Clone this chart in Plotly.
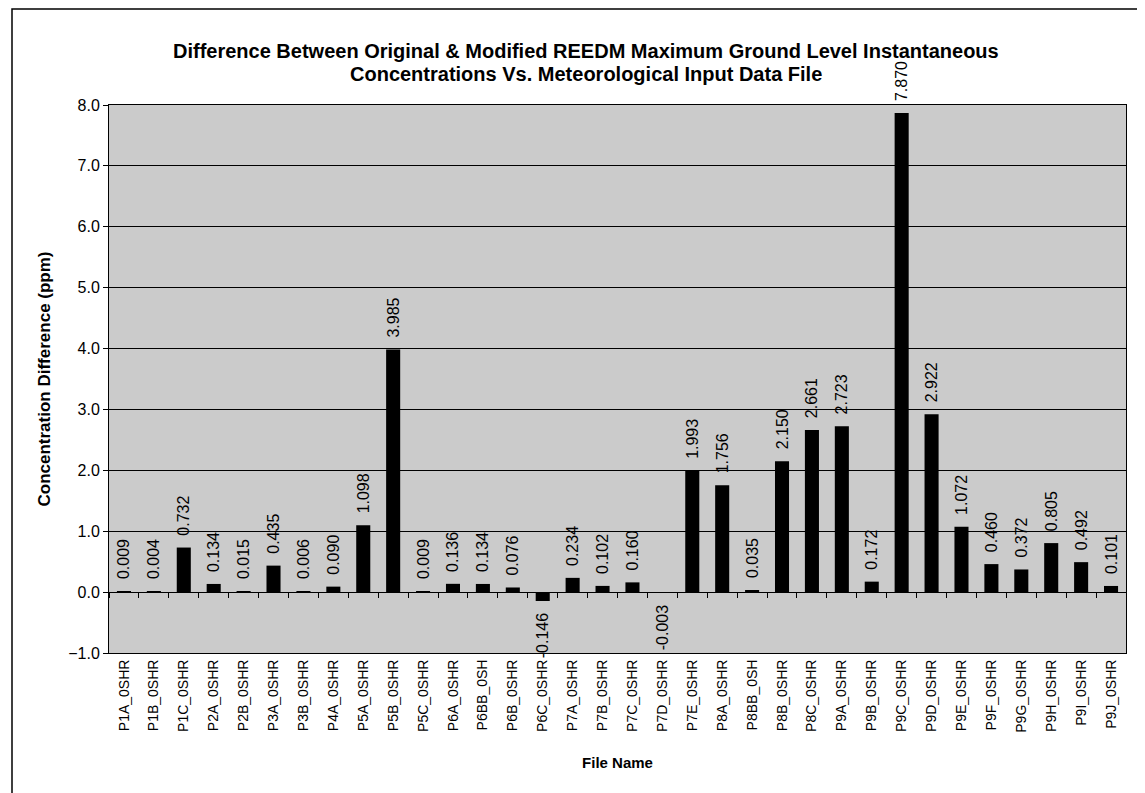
import plotly.graph_objects as go

# File names and concentration differences (ppm)
file_names = [
    "P1A_0SHR", "P1B_0SHR", "P1C_0SHR", "P2A_0SHR", "P2B_0SHR", "P3A_0SHR",
    "P3B_0SHR", "P4A_0SHR", "P5A_0SHR", "P5B_0SHR", "P5C_0SHR", "P6A_0SHR",
    "P6BB_0SH", "P6B_0SHR", "P6C_0SHR", "P7A_0SHR", "P7B_0SHR", "P7C_0SHR",
    "P7D_0SHR", "P7E_0SHR", "P8A_0SHR", "P8BB_0SH", "P8B_0SHR", "P8C_0SHR",
    "P9A_0SHR", "P9B_0SHR", "P9C_0SHR", "P9D_0SHR", "P9E_0SHR", "P9F_0SHR",
    "P9G_0SHR", "P9H_0SHR", "P9I_0SHR", "P9J_0SHR",
]
diff_ppm = [
    0.009, 0.004, 0.732, 0.134, 0.015, 0.435,
    0.006, 0.090, 1.098, 3.985, 0.009, 0.136,
    0.134, 0.076, -0.146, 0.234, 0.102, 0.160,
    -0.003, 1.993, 1.756, 0.035, 2.150, 2.661,
    2.723, 0.172, 7.870, 2.922, 1.072, 0.460,
    0.372, 0.805, 0.492, 0.101,
]
y_min, y_max = -1, 8
y_ticks = list(range(y_min, y_max + 1))
title_lines = [
    "Difference Between Original & Modified REEDM Maximum Ground Level Instantaneous",
    "Concentrations Vs. Meteorological Input Data File",
]

FONT = "Liberation Sans, Arial, sans-serif"
NBSP = "\u00a0"
W, H = 1138, 786
L, R, T, B = 101, 20, 97, 141
PLOT_W = W - L - R
PLOT_H = H - T - B


def bar_label(v):
    # small gap between bar end and rotated label
    s = f"{v:.3f}"
    return NBSP * 2 + s if v >= 0 else s + NBSP * 2


def paper_x(px_from_left):
    return (px_from_left - L) / PLOT_W


def paper_y(px_from_top):
    return (H - B - px_from_top) / PLOT_H


fig = go.Figure()
fig.add_trace(
    go.Bar(
        x=file_names,
        y=diff_ppm,
        marker=dict(color="black", line=dict(width=0)),
        text=[bar_label(v) for v in diff_ppm],
        textposition="outside",
        textangle=-90,
        constraintext="none",
        cliponaxis=False,
        textfont=dict(family=FONT, size=16, color="black"),
        showlegend=False,
        hoverinfo="x+y",
    )
)
# helper axis for the category tick marks sitting on the zero line
fig.add_trace(go.Scatter(x=[], y=[], xaxis="x2", showlegend=False, hoverinfo="skip"))

# two-line title, centred on the chart area, Excel-like tight line spacing
for line, mid_px in zip(title_lines, [43, 66]):
    fig.add_annotation(
        text=f"<b>{line}</b>", xref="paper", yref="paper",
        x=paper_x(578), y=paper_y(mid_px), xanchor="center", yanchor="middle",
        showarrow=False, font=dict(family=FONT, size=20, color="black"),
    )

fig.update_layout(
    width=W,
    height=H,
    margin=dict(l=L, r=R, t=T, b=B),
    paper_bgcolor="white",
    plot_bgcolor="#cbcbcb",
    bargap=0.53,
    font=dict(family=FONT, color="black"),
    xaxis=dict(
        tickangle=-90,
        tickfont=dict(family=FONT, size=14),
        title=dict(text="<b>File Name</b>", font=dict(family=FONT, size=15), standoff=25),
        showline=True, linecolor="black", linewidth=1, mirror=True,
        ticks="", showgrid=False,
    ),
    xaxis2=dict(
        overlaying="x", anchor="free",
        position=(0 - y_min) / (y_max - y_min),
        range=[-0.5, len(file_names) - 0.5],
        tick0=0.5, dtick=1,
        ticks="outside", ticklen=5, tickcolor="black", tickwidth=1,
        showticklabels=False, showgrid=False, showline=False, zeroline=False,
    ),
    yaxis=dict(
        range=[y_min, y_max],
        tickvals=y_ticks,
        tickformat=".1f",
        tickfont=dict(family=FONT, size=16),
        title=dict(text="<b>Concentration Difference (ppm)</b>", font=dict(family=FONT, size=17), standoff=13),
        showline=True, linecolor="black", linewidth=1, mirror=True,
        ticks="outside", ticklen=5, tickcolor="black",
        showgrid=True, gridcolor="black", gridwidth=1,
        zeroline=True, zerolinecolor="black", zerolinewidth=1,
    ),
    shapes=[
        dict(type="rect", xref="paper", yref="paper",
             x0=paper_x(4), x1=paper_x(1136), y0=-0.3, y1=paper_y(1),
             line=dict(color="black", width=1.5), layer="below"),
    ],
)

fig.write_html("out.html")
